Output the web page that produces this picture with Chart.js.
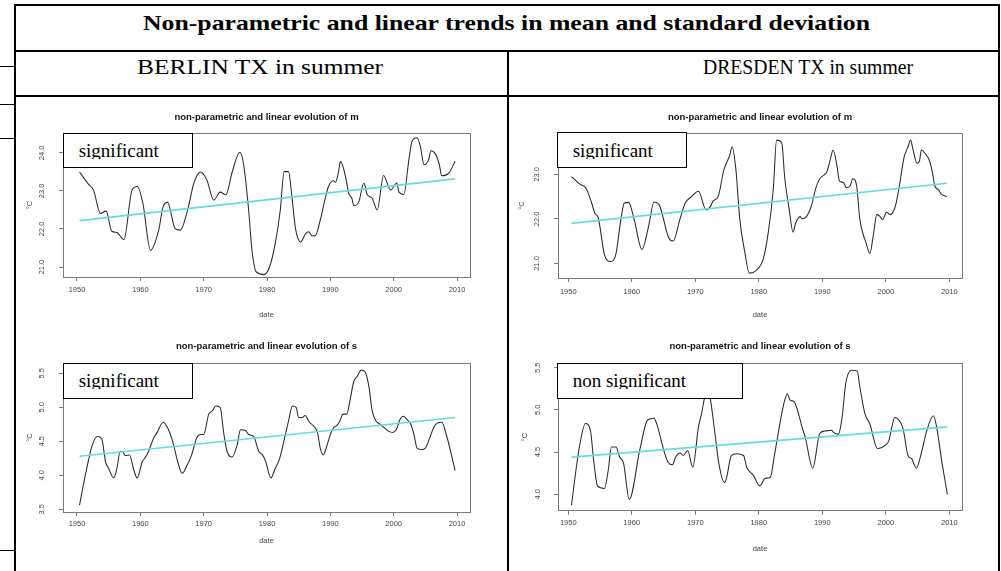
<!DOCTYPE html>
<html>
<head>
<meta charset="utf-8">
<title>Non-parametric and linear trends in mean and standard deviation</title>
<script src="https://cdn.jsdelivr.net/npm/chart.js@4.4.1/dist/chart.umd.min.js"></script>
<style>
  html, body { margin: 0; padding: 0; background: #fff; }
  body { width: 1001px; height: 571px; position: relative; overflow: hidden; }
  .rule { position: absolute; background: #000; }
  .hdr { position: absolute; white-space: nowrap; color: #000; transform-origin: 0 0;
         font-family: "Liberation Serif", "Times New Roman", serif; font-size: 21px; line-height: 24px; }
  .hdr.bold { font-weight: bold; }
  canvas { position: absolute; }
  .note { position: absolute; box-sizing: border-box; border: 1.5px solid #000; background: #fff; }
  .note span { position: absolute; left: 15px; top: 6.6px; height: 18.8px; overflow: hidden; white-space: nowrap;
               font-family: "Liberation Serif", "Times New Roman", serif; font-size: 19px; line-height: 22px; color: #000; }
</style>
</head>
<body>

<!-- table frame -->
<div class="rule" style="left:14px;top:3.5px;width:2px;height:568px"></div>
<div class="rule" style="left:998px;top:3.5px;width:2px;height:568px"></div>
<div class="rule" style="left:14px;top:3.5px;width:986px;height:2px"></div>
<div class="rule" style="left:14px;top:49.5px;width:986px;height:2px"></div>
<div class="rule" style="left:14px;top:95px;width:986px;height:2px"></div>
<div class="rule" style="left:507px;top:50px;width:2px;height:521px"></div>
<!-- rules of the neighbouring table on the left margin -->
<div class="rule" style="left:0;top:66px;width:14px;height:1px"></div>
<div class="rule" style="left:0;top:104px;width:14px;height:1px"></div>
<div class="rule" style="left:0;top:138px;width:14px;height:1px"></div>
<div class="rule" style="left:0;top:550px;width:14px;height:1px"></div>

<div class="hdr bold" id="hTitle">Non-parametric and linear trends in mean and standard deviation</div>
<div class="hdr" id="hBerlin">BERLIN TX in summer</div>
<div class="hdr" id="hDresden">DRESDEN TX in summer</div>

<script>
// ---- shared axis ticks ----
const yearTicks = [1950, 1960, 1970, 1980, 1990, 2000, 2010];

// ---- Berlin TX, summer: smoothed mean m (°C) ----
const berlinMeanYears = [1950.4, 1951.3, 1951.8, 1952.6, 1953.7, 1954.6, 1955.5, 1956.3, 1957.4, 1958.7,
  1959.5, 1960.4, 1961.6, 1962.9, 1963.6, 1964.3, 1965.5, 1966.3, 1967.6, 1968.4,
  1969.5, 1970.5, 1971.6, 1972.6, 1973.5, 1974.5, 1975.7, 1976.3, 1977.1, 1977.6,
  1978.3, 1979.5, 1980.4, 1981.3, 1982.1, 1982.7, 1983.4, 1983.9, 1984.5, 1985.3,
  1986.1, 1986.6, 1987.1, 1987.6, 1988.4, 1989.2, 1989.7, 1990.5, 1990.8, 1991.3,
  1991.6, 1992.4, 1992.9, 1993.4, 1993.7, 1994.5, 1995.3, 1995.8, 1996.6, 1997.4,
  1998.4, 1999.5, 2000.5, 2000.8, 2001.6, 2002.4, 2002.9, 2003.7, 2004.2, 2004.8,
  2005.5, 2005.9, 2006.6, 2007.2, 2007.6, 2008.7, 2009.7];
const berlinMeanValues = [23.50, 23.29, 23.18, 23.03, 22.41, 22.47, 21.94, 21.91, 21.72, 23.03,
  23.12, 22.68, 21.44, 21.97, 22.59, 22.70, 22.01, 21.97, 22.59, 23.18,
  23.50, 23.29, 22.76, 22.97, 22.90, 23.50, 24.02, 23.71, 22.50, 21.48,
  20.87, 20.80, 21.00, 21.62, 22.50, 23.51, 23.51, 22.90, 22.01, 21.66,
  21.88, 21.93, 21.82, 21.82, 22.23, 22.81, 23.12, 23.27, 23.23, 23.51,
  23.78, 23.38, 22.94, 22.81, 22.61, 22.72, 23.21, 22.91, 22.81, 22.50,
  23.41, 23.03, 23.21, 22.98, 22.91, 23.82, 24.31, 24.40, 24.18, 23.69,
  23.82, 24.06, 23.97, 23.70, 23.40, 23.47, 23.78];
const berlinMeanTrendYears = [1950.4, 2009.7];
const berlinMeanTrendValues = [22.22, 23.32];
const berlinMeanTicks = [21.0, 22.0, 23.0, 24.0];

// ---- Dresden TX, summer: smoothed mean m (°C) ----
const dresdenMeanYears = [1950.5, 1951.8, 1952.8, 1953.7, 1954.2, 1954.7, 1955.7, 1956.6, 1957.4, 1958.3,
  1958.8, 1959.5, 1960.4, 1961.6, 1962.6, 1963.5, 1964.3, 1965.8, 1966.5, 1967.6,
  1968.4, 1969.4, 1970.5, 1971.7, 1972.4, 1972.8, 1973.6, 1974.5, 1975.4, 1975.8,
  1976.4, 1977.0, 1977.8, 1978.5, 1979.6, 1980.7, 1981.5, 1982.3, 1982.8, 1983.6,
  1984.1, 1984.8, 1985.4, 1985.8, 1986.5, 1986.8, 1987.5, 1988.3, 1989.0, 1989.6,
  1990.4, 1990.7, 1991.2, 1991.7, 1992.3, 1992.7, 1993.3, 1993.8, 1994.4, 1994.8,
  1995.4, 1995.9, 1996.5, 1996.8, 1997.5, 1998.0, 1998.6, 1999.1, 1999.5, 2000.1,
  2000.7, 2001.3, 2001.7, 2002.2, 2002.9, 2003.5, 2003.9, 2004.3, 2004.9, 2005.3,
  2005.6, 2006.3, 2006.9, 2007.4, 2007.7, 2008.3, 2008.8, 2009.6];
const dresdenMeanValues = [22.95, 22.78, 22.69, 22.35, 22.12, 22.03, 21.19, 21.04, 21.15, 22.00,
  22.35, 22.37, 21.97, 21.31, 21.80, 22.38, 22.32, 21.58, 21.50, 22.00,
  22.35, 22.50, 22.62, 22.20, 22.28, 22.40, 22.50, 23.10, 23.42, 23.62,
  23.10, 22.00, 21.25, 20.78, 20.84, 21.10, 21.70, 22.70, 23.77, 23.72,
  22.90, 22.20, 21.70, 21.90, 22.05, 22.00, 22.05, 22.30, 22.70, 22.90,
  23.00, 23.05, 23.30, 23.55, 23.20, 22.85, 22.82, 22.70, 22.75, 22.90,
  22.75, 22.00, 21.62, 21.50, 21.22, 21.60, 22.10, 22.05, 21.98, 22.15,
  22.10, 22.20, 22.40, 22.80, 23.40, 23.62, 23.77, 23.55, 23.25, 23.30,
  23.55, 23.45, 23.30, 23.00, 22.75, 22.65, 22.55, 22.50];
const dresdenMeanTrendYears = [1950.5, 2009.6];
const dresdenMeanTrendValues = [21.90, 22.80];
const dresdenMeanTicks = [21.0, 22.0, 23.0];

// ---- Berlin TX, summer: smoothed standard deviation s (°C) ----
const berlinSdYears = [1950.4, 1950.95, 1951.7, 1952.4, 1953.2, 1953.9, 1954.5, 1955.0, 1955.8, 1956.3,
  1956.8, 1957.2, 1957.6, 1958.3, 1958.9, 1959.5, 1960.3, 1960.7, 1961.3, 1962.1,
  1962.6, 1963.6, 1964.3, 1965.1, 1965.9, 1966.6, 1967.4, 1968.1, 1968.9, 1969.5,
  1970.0, 1970.8, 1971.4, 1971.9, 1972.6, 1973.2, 1973.7, 1974.5, 1975.3, 1975.8,
  1976.6, 1977.1, 1977.9, 1978.7, 1979.3, 1979.8, 1980.6, 1981.3, 1982.0, 1982.9,
  1983.4, 1984.0, 1984.6, 1985.0, 1985.6, 1986.0, 1986.7, 1987.4, 1988.0, 1988.4,
  1988.9, 1989.5, 1990.0, 1990.5, 1991.0, 1991.5, 1992.0, 1992.6, 1993.1, 1993.7,
  1994.2, 1994.9, 1995.5, 1996.1, 1996.6, 1997.2, 1997.9, 1998.5, 1999.2, 1999.8,
  2000.4, 2001.0, 2001.5, 2002.1, 2002.7, 2003.2, 2003.7, 2004.4, 2005.0, 2005.7,
  2006.3, 2006.9, 2007.6, 2008.3, 2009.0, 2009.7];
const berlinSdValues = [3.56, 3.83, 4.17, 4.44, 4.57, 4.54, 4.20, 4.10, 3.96, 4.10,
  4.35, 4.35, 4.29, 4.30, 4.10, 3.96, 4.20, 4.25, 4.35, 4.55,
  4.62, 4.78, 4.70, 4.50, 4.20, 4.03, 4.15, 4.30, 4.55, 4.60,
  4.60, 4.90, 4.95, 5.02, 5.00, 4.60, 4.35, 4.27, 4.45, 4.67,
  4.66, 4.60, 4.57, 4.35, 4.30, 4.20, 3.96, 4.10, 4.25, 4.60,
  4.80, 5.02, 5.00, 4.85, 4.85, 4.88, 4.78, 4.72, 4.62, 4.40,
  4.30, 4.45, 4.60, 4.70, 4.73, 4.80, 4.90, 4.90, 5.10, 5.38,
  5.45, 5.55, 5.52, 5.30, 4.95, 4.80, 4.75, 4.70, 4.65, 4.63,
  4.67, 4.82, 4.87, 4.82, 4.75, 4.60, 4.40, 4.38, 4.40, 4.55,
  4.70, 4.77, 4.78, 4.60, 4.35, 4.07];
const berlinSdTrendYears = [1950.4, 2009.7];
const berlinSdTrendValues = [4.28, 4.85];
const berlinSdTicks = [3.5, 4.0, 4.5, 5.0, 5.5];

// ---- Dresden TX, summer: smoothed standard deviation s (°C) ----
const dresdenSdYears = [1950.5, 1951.7, 1952.7, 1953.5, 1954.0, 1954.6, 1955.7, 1956.3, 1956.8, 1957.5,
  1958.1, 1958.7, 1959.6, 1961.3, 1962.5, 1963.5, 1963.9, 1965.2, 1965.7, 1966.4,
  1966.9, 1967.6, 1968.1, 1968.8, 1969.6, 1970.5, 1971.0, 1971.5, 1971.9, 1972.3,
  1973.1, 1973.7, 1974.6, 1974.9, 1975.7, 1976.5, 1977.6, 1978.1, 1979.1, 1980.2,
  1981.0, 1981.8, 1982.5, 1983.9, 1984.5, 1984.9, 1985.5, 1986.0, 1986.8, 1987.3,
  1988.5, 1989.6, 1990.4, 1991.5, 1991.7, 1992.5, 1993.1, 1993.7, 1994.6, 1995.5,
  1995.9, 1996.7, 1997.5, 1998.7, 1999.9, 2000.5, 2000.9, 2001.4, 2002.7, 2003.5,
  2004.1, 2004.8, 2005.7, 2006.4, 2007.5, 2008.0, 2008.8, 2009.7];
const dresdenSdValues = [3.87, 4.54, 4.84, 4.75, 4.40, 4.10, 4.07, 4.29, 4.56, 4.56,
  4.44, 4.37, 3.94, 4.54, 4.88, 4.90, 4.84, 4.48, 4.38, 4.35,
  4.44, 4.49, 4.46, 4.52, 4.32, 4.80, 4.96, 5.16, 5.25, 5.16,
  4.72, 4.37, 4.14, 4.19, 4.46, 4.48, 4.46, 4.32, 4.23, 4.10,
  4.19, 4.20, 4.48, 5.06, 5.19, 5.12, 5.10, 5.02, 4.80, 4.68,
  4.31, 4.72, 4.75, 4.76, 4.74, 4.71, 4.90, 5.32, 5.47, 5.46,
  5.28, 4.96, 4.83, 4.54, 4.58, 4.64, 4.78, 4.91, 4.78, 4.46,
  4.42, 4.31, 4.52, 4.74, 4.93, 4.80, 4.40, 4.00];
const dresdenSdTrendYears = [1950.5, 2009.7];
const dresdenSdTrendValues = [4.44, 4.80];
const dresdenSdTicks = [4.0, 4.5, 5.0, 5.5];

// ---- styling ----
const SANS = '"Liberation Sans", Arial, sans-serif';
const AXIS_GREY = '#7a7a7a';
const TEXT_GREY = '#444';
const CURVE = '#2a2a2a';
const TREND = '#66dada';
const TICK_LEN = 4;
const TICK_SIZE = 7.5;
const TICK_LH = TICK_SIZE * 1.2;
const TITLE_SIZE = 9.5;
const TITLE_LH = TITLE_SIZE * 1.2;

// Panel geometry: canvas box [left, top, width, height] and plot box [left, top, right, bottom]
// in page pixels, plus the offsets of the titles and tick labels.
const panels = [
  { years: berlinMeanYears, values: berlinMeanValues,
    trendYears: berlinMeanTrendYears, trendValues: berlinMeanTrendValues, yTicks: berlinMeanTicks,
    title: 'non-parametric and linear evolution of m', note: 'significant',
    xLim: [1947.79, 2012.05], yLim: [20.737, 24.526],
    canvas: [17, 98, 488, 228], plot: [63, 133, 470, 277],
    titleMid: 19, xTickGap: 13.3, dateFromBottom: 11, degMid: 13, yTickGap: 21.3,
    noteBox: [62.7, 132.7, 130.6, 35] },
  { years: dresdenMeanYears, values: dresdenMeanValues,
    trendYears: dresdenMeanTrendYears, trendValues: dresdenMeanTrendValues, yTicks: dresdenMeanTicks,
    title: 'non-parametric and linear evolution of m', note: 'significant',
    xLim: [1948.38, 2012.0], yLim: [20.67, 23.93],
    canvas: [511, 98, 486, 228], plot: [558, 133, 962, 278],
    titleMid: 19.7, xTickGap: 13.7, dateFromBottom: 11, degMid: 10.7, yTickGap: 21.3,
    noteBox: [556.7, 132.3, 130, 35.4] },
  { years: berlinSdYears, values: berlinSdValues,
    trendYears: berlinSdTrendYears, trendValues: berlinSdTrendValues, yTicks: berlinSdTicks,
    title: 'non-parametric and linear evolution of s', note: 'significant',
    xLim: [1947.79, 2012.05], yLim: [3.46, 5.652],
    canvas: [17, 328, 488, 243], plot: [63, 363, 470, 512],
    titleMid: 18.7, xTickGap: 11.5, dateFromBottom: 30.3, degMid: 13, yTickGap: 21.3,
    noteBox: [62.7, 362.7, 130.6, 36.6] },
  { years: dresdenSdYears, values: dresdenSdValues,
    trendYears: dresdenSdTrendYears, trendValues: dresdenSdTrendValues, yTicks: dresdenSdTicks,
    title: 'non-parametric and linear evolution of s', note: 'non significant',
    xLim: [1948.38, 2012.0], yLim: [3.806, 5.552],
    canvas: [511, 328, 486, 243], plot: [558, 363.3, 962, 510.7],
    titleMid: 18, xTickGap: 12.6, dateFromBottom: 21.7, degMid: 14, yTickGap: 19.7,
    noteBox: [556.7, 362.7, 186.6, 36.6] }
];

// Frame around the plotting region, as in base R graphics
const plotFrame = {
  id: 'plotFrame',
  afterDatasetsDraw(chart) {
    const { ctx, chartArea: a } = chart;
    ctx.save();
    ctx.strokeStyle = AXIS_GREY;
    ctx.lineWidth = 1;
    ctx.strokeRect(Math.round(a.left) + 0.5, Math.round(a.top) + 0.5,
                   Math.round(a.right - a.left), Math.round(a.bottom - a.top));
    ctx.restore();
  }
};

function widestText(font, texts) {
  const ctx = document.createElement('canvas').getContext('2d');
  ctx.font = font;
  return Math.max(...texts.map(t => ctx.measureText(t).width));
}

function drawPanel(p) {
  const [cx, cy, cw, ch] = p.canvas;
  const [L, T, R, B] = p.plot;
  const cv = document.createElement('canvas');
  cv.width = cw; cv.height = ch;
  cv.style.left = cx + 'px'; cv.style.top = cy + 'px';
  cv.style.width = cw + 'px'; cv.style.height = ch + 'px';
  document.body.appendChild(cv);

  const yAxisWidth = L - cx;
  const xAxisHeight = cy + ch - B;
  const titleBlock = T - cy;
  const padRight = cx + cw - R;
  const titleTop = p.titleMid - TITLE_LH / 2;
  const yLabelText = p.yTicks.map(v => v.toFixed(1));
  const widest = widestText(TICK_SIZE + 'px ' + SANS, yLabelText);
  const tickFont = { family: SANS, size: TICK_SIZE, lineHeight: 1.2 };
  const tickGrid = { display: true, drawOnChartArea: false, drawTicks: true,
                     tickLength: TICK_LEN, color: AXIS_GREY, lineWidth: 1 };

  new Chart(cv, {
    type: 'line',
    data: {
      datasets: [
        { data: p.trendYears.map((x, i) => ({ x, y: p.trendValues[i] })),
          borderColor: TREND, borderWidth: 1.7, pointRadius: 0, tension: 0 },
        { data: p.years.map((x, i) => ({ x, y: p.values[i] })),
          borderColor: CURVE, borderWidth: 1.05, pointRadius: 0, cubicInterpolationMode: 'monotone' }
      ]
    },
    options: {
      responsive: false, animation: false, devicePixelRatio: 1,
      layout: { padding: { left: 0, top: 0, right: padRight, bottom: 0 } },
      plugins: {
        legend: { display: false },
        tooltip: { enabled: false },
        title: { display: true, text: p.title, fullSize: false, color: '#111',
                 font: { family: SANS, size: TITLE_SIZE, weight: 'bold', lineHeight: 1.2 },
                 padding: { top: titleTop, bottom: titleBlock - titleTop - TITLE_LH } }
      },
      scales: {
        x: {
          type: 'linear', bounds: 'data', min: p.xLim[0], max: p.xLim[1],
          afterBuildTicks: s => { s.ticks = yearTicks.map(v => ({ value: v })); },
          afterFit: s => { s.height = xAxisHeight; },
          grid: tickGrid, border: { display: false },
          ticks: { autoSkip: false, minRotation: 0, maxRotation: 0, color: TEXT_GREY, font: tickFont,
                   padding: p.xTickGap - TICK_LEN - TICK_LH / 2, callback: v => String(v) },
          title: { display: true, text: 'date', color: TEXT_GREY, font: tickFont,
                   padding: { top: 0, bottom: p.dateFromBottom - TICK_LH / 2 } }
        },
        y: {
          type: 'linear', bounds: 'data', min: p.yLim[0], max: p.yLim[1],
          afterBuildTicks: s => { s.ticks = p.yTicks.map(v => ({ value: v })); },
          afterFit: s => { s.width = yAxisWidth; },
          grid: tickGrid, border: { display: false },
          ticks: { autoSkip: false, minRotation: 90, maxRotation: 90, crossAlign: 'center',
                   color: TEXT_GREY, font: tickFont,
                   padding: p.yTickGap - TICK_LEN - widest / 2, callback: v => v.toFixed(1) },
          title: { display: true, text: '°C', color: TEXT_GREY, font: tickFont,
                   padding: { top: p.degMid - TICK_LH / 2, bottom: 0 } }
        }
      }
    },
    plugins: [plotFrame]
  });

  // significance label box over the upper-left corner of the plot
  const [nx, ny, nw, nh] = p.noteBox;
  const box = document.createElement('div');
  box.className = 'note';
  box.style.left = nx + 'px'; box.style.top = ny + 'px';
  box.style.width = nw + 'px'; box.style.height = nh + 'px';
  const txt = document.createElement('span');
  txt.textContent = p.note;
  box.appendChild(txt);
  document.body.appendChild(box);
}

// Table headings: centred on a given x, stretched to the given width
function placeHeading(id, centerX, top, targetWidth) {
  const el = document.getElementById(id);
  el.style.top = top + 'px';
  el.style.left = '0px';
  const natural = el.getBoundingClientRect().width;
  el.style.transform = 'scaleX(' + (targetWidth / natural) + ')';
  el.style.left = (centerX - targetWidth / 2) + 'px';
}

placeHeading('hTitle', 506.5, 11.4, 727);
placeHeading('hBerlin', 260, 55.2, 246);
placeHeading('hDresden', 808, 54.9, 210);

panels.forEach(drawPanel);
</script>
</body>
</html>
